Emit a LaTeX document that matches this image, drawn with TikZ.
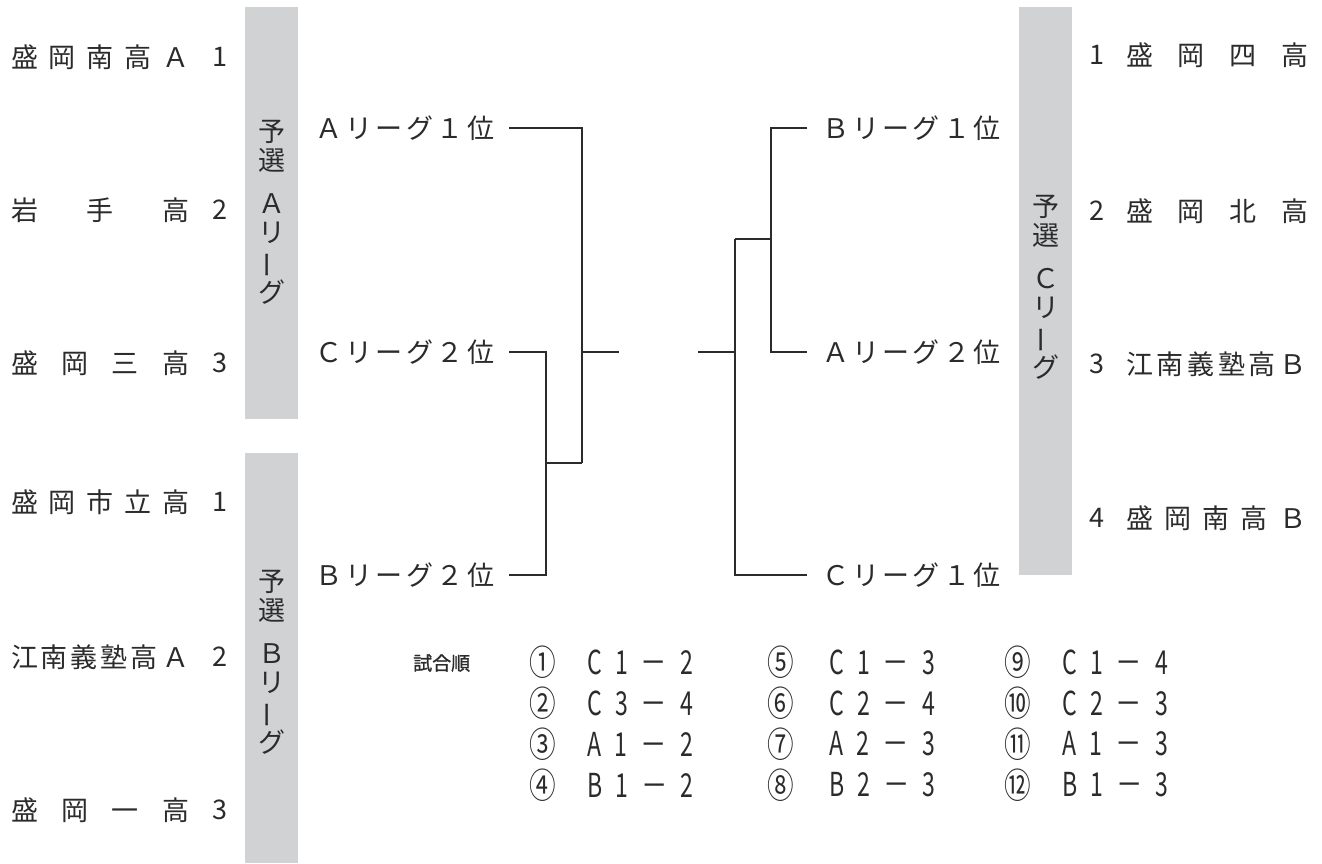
\documentclass[tikz,border=0pt]{standalone}
\usepackage{fontspec}
\usepackage{graphicx}
\setmainfont{Noto Sans CJK JP}
\newfontfamily\heavyjp[FakeBold=1.2]{Noto Sans CJK JP}
\definecolor{ink}{HTML}{2B2B2B}
\definecolor{barfill}{HTML}{D1D2D4}
\newcommand{\jspread}[2]{\makebox[#1][s]{#2}}
\newcommand{\vchou}{\rotatebox[origin=c]{90}{ー}}
\newcommand{\cnd}[1]{\scalebox{0.7}[1]{#1}}
\newcommand{\ccirc}[1]{\scalebox{0.76}[1]{#1}}
\newcommand{\mtch}[3]{\jspread{106pt}{\cnd{#1}\hfill\cnd{#2}\hfill\scalebox{0.8}[1]{－}\hfill\cnd{#3}}}
\tikzset{
  txt/.style={inner sep=0pt, anchor=west, text=ink, font=\fontsize{27}{29}\selectfont},
  numtxt/.style={inner sep=0pt, text=ink, font=\fontsize{27}{29}\selectfont},
  vtxt/.style={inner sep=0pt, align=center, text=ink, font=\fontsize{27}{29}\selectfont},
  sched/.style={inner sep=0pt, anchor=west, text=ink, font=\fontsize{33}{35}\selectfont},
  circ/.style={inner sep=0pt, text=ink, font=\fontsize{35}{37}\selectfont},
  head/.style={inner sep=0pt, anchor=west, text=ink, font=\heavyjp\fontsize{19}{21}\selectfont},
  bracket/.style={draw=ink, line width=1.4pt},
  league/.style={fill=barfill, draw=none}
}
\begin{document}
\begin{tikzpicture}[x=1pt,y=-1pt]
\useasboundingbox[fill=white] (0,0) rectangle (1322,863);

% league bars
\fill[league] (245,7) rectangle (298,419);
\fill[league] (245,453) rectangle (298,863);
\fill[league] (1019,7) rectangle (1072,575);

\node[vtxt] (vA) at (271.5,212) {予\\選\\[14pt]Ａ\\リ\\\vchou\\グ};
\node[vtxt] (vB) at (271.5,662) {予\\選\\[14pt]Ｂ\\リ\\\vchou\\グ};
\node[vtxt] (vC) at (1045.5,287) {予\\選\\[14pt]Ｃ\\リ\\\vchou\\グ};

% A league teams
\node[txt] (ta1) at (11,57) {\jspread{178pt}{盛\hfill 岡\hfill 南\hfill 高\hfill Ａ}};
\node[numtxt] (na1) at (220,57) {1};
\node[txt] (ta2) at (11,210) {\jspread{178pt}{岩\hfill 手\hfill 高}};
\node[numtxt] (na2) at (220,210) {2};
\node[txt] (ta3) at (11,363) {\jspread{178pt}{盛\hfill 岡\hfill 三\hfill 高}};
\node[numtxt] (na3) at (220,363) {3};

% B league teams
\node[txt] (tb1) at (11,502) {\jspread{178pt}{盛\hfill 岡\hfill 市\hfill 立\hfill 高}};
\node[numtxt] (nb1) at (220,502) {1};
\node[txt] (tb2) at (11,657) {\jspread{146pt}{江\hfill 南\hfill 義\hfill 塾\hfill 高}\hspace{5pt}Ａ};
\node[numtxt] (nb2) at (220,657) {2};
\node[txt] (tb3) at (11,810) {\jspread{178pt}{盛\hfill 岡\hfill 一\hfill 高}};
\node[numtxt] (nb3) at (220,810) {3};

% C league teams
\node[numtxt] (nc1) at (1097,55) {1};
\node[txt] (tc1) at (1126,55) {\jspread{182pt}{盛\hfill 岡\hfill 四\hfill 高}};
\node[numtxt] (nc2) at (1097,211) {2};
\node[txt] (tc2) at (1126,211) {\jspread{182pt}{盛\hfill 岡\hfill 北\hfill 高}};
\node[numtxt] (nc3) at (1097,364) {3};
\node[txt] (tc3) at (1126,364) {\jspread{180pt}{江\hfill 南\hfill 義\hfill 塾\hfill 高\hfill Ｂ}};
\node[numtxt] (nc4) at (1097,518) {4};
\node[txt] (tc4) at (1126,518) {\jspread{180pt}{盛\hfill 岡\hfill 南\hfill 高\hfill Ｂ}};

% bracket labels
\node[txt] (la1) at (315,128) {\jspread{179pt}{Ａ\hfill リ\hfill ー\hfill グ\hfill １\hfill 位}};
\node[txt] (lc2) at (315,352) {\jspread{179pt}{Ｃ\hfill リ\hfill ー\hfill グ\hfill ２\hfill 位}};
\node[txt] (lb2) at (315,575) {\jspread{179pt}{Ｂ\hfill リ\hfill ー\hfill グ\hfill ２\hfill 位}};
\node[txt] (rb1) at (822,128) {\jspread{178pt}{Ｂ\hfill リ\hfill ー\hfill グ\hfill １\hfill 位}};
\node[txt] (ra2) at (822,352) {\jspread{178pt}{Ａ\hfill リ\hfill ー\hfill グ\hfill ２\hfill 位}};
\node[txt] (rc1) at (822,575) {\jspread{178pt}{Ｃ\hfill リ\hfill ー\hfill グ\hfill １\hfill 位}};

% bracket coordinates
\coordinate (L1) at (509,128);
\coordinate (L2) at (509,352);
\coordinate (L3) at (509,575);
\coordinate (q1) at (546,463);
\coordinate (q2) at (582,463);
\coordinate (c1) at (582,352);
\coordinate (f1) at (619,352);
\coordinate (R1) at (807,128);
\coordinate (R2) at (807,352);
\coordinate (R3) at (807,575);
\coordinate (r1) at (771,239);
\coordinate (r2) at (735,239);
\coordinate (c2) at (735,352);
\coordinate (f2) at (698,352);

\draw[bracket] (L2) -| (q1) |- (L3);
\draw[bracket] (q1) -- (q2);
\draw[bracket] (L1) -| (q2);
\draw[bracket] (c1) -- (f1);
\draw[bracket] (R1) -| (r1) |- (R2);
\draw[bracket] (r1) -- (r2);
\draw[bracket] (r2) |- (R3);
\draw[bracket] (c2) -- (f2);

% schedule
\node[head] (hd) at (413,663) {試合順};
\node[circ] (k1) at (543,662) {\ccirc{①}};
\node[circ] (k2) at (543,703) {\ccirc{②}};
\node[circ] (k3) at (543,744) {\ccirc{③}};
\node[circ] (k4) at (543,785) {\ccirc{④}};
\node[circ] (k5) at (781,662) {\ccirc{⑤}};
\node[circ] (k6) at (781,703) {\ccirc{⑥}};
\node[circ] (k7) at (781,744) {\ccirc{⑦}};
\node[circ] (k8) at (781,785) {\ccirc{⑧}};
\node[circ] (k9) at (1018,662) {\ccirc{⑨}};
\node[circ] (k10) at (1018,703) {\ccirc{⑩}};
\node[circ] (k11) at (1018,744) {\ccirc{⑪}};
\node[circ] (k12) at (1018,785) {\ccirc{⑫}};

\node[sched] (m1) at (587,662) {\mtch{C}{1}{2}};
\node[sched] (m2) at (587,703) {\mtch{C}{3}{4}};
\node[sched] (m3) at (587,744) {\mtch{A}{1}{2}};
\node[sched] (m4) at (587,785) {\mtch{B}{1}{2}};
\node[sched] (m5) at (829,662) {\mtch{C}{1}{3}};
\node[sched] (m6) at (829,703) {\mtch{C}{2}{4}};
\node[sched] (m7) at (829,744) {\mtch{A}{2}{3}};
\node[sched] (m8) at (829,785) {\mtch{B}{2}{3}};
\node[sched] (m9) at (1062,662) {\mtch{C}{1}{4}};
\node[sched] (m10) at (1062,703) {\mtch{C}{2}{3}};
\node[sched] (m11) at (1062,744) {\mtch{A}{1}{3}};
\node[sched] (m12) at (1062,785) {\mtch{B}{1}{3}};
\end{tikzpicture}
\end{document}
